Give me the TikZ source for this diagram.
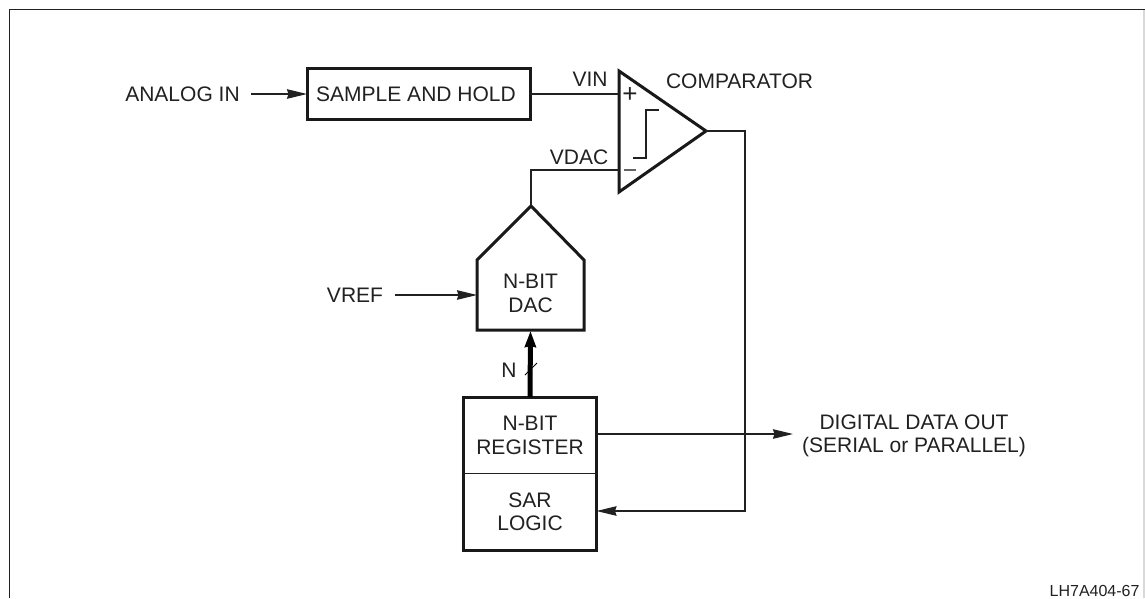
\documentclass[tikz,border=0pt]{standalone}
\usepackage{fontspec}
\setmainfont{Liberation Sans}
\usetikzlibrary{arrows.meta}
\definecolor{ink}{gray}{0.13}
\tikzset{
  x=1pt,y=-1pt,
  every node/.style={font=\fontsize{21}{23.5}\selectfont,text=ink,inner sep=0pt,outer sep=0pt,align=center},
  wire/.style={draw=ink,line width=1.3pt},
  box/.style={draw=black!90,line width=3pt,line join=miter},
  arr/.style={wire,-{Stealth[length=20pt,width=9.5pt,inset=1.5pt]}},
  bus/.style={draw=black,line width=5pt,-{Stealth[length=16pt,width=11pt,inset=1pt]}},
}
\begin{document}
\begin{tikzpicture}
\useasboundingbox (0,0) rectangle (1145,598);
\fill[white] (0,0) rectangle (1145,598);
% frame
\draw[draw=gray!30,line width=1.2pt] (1144,10) -- (1144,598);
\draw[draw=ink,line width=1.3pt] (9.5,598) -- (9.5,9.5) -- (1145,9.5);
% sample and hold
\node[box,minimum width=223,minimum height=51] (sh) at (418.5,94) {};
\node (sht) at (416,94.5) {SAMPLE AND HOLD};
\node (ai) at (182.5,94) {ANALOG IN};
\coordinate (aiE) at (251,94);
\draw[arr] (aiE) -- (sh.west);
% comparator
\coordinate (cA) at (619,71);
\coordinate (cB) at (619,192);
\coordinate (cC) at (706,131);
\draw[box] (cA) -- (cC) -- (cB) -- cycle;
\coordinate (cP) at (619,94);
\coordinate (cM) at (619,170);
\draw[wire] (sh.east) -- (cP);
\node (vin) at (590,79.5) {VIN};
\node (vdac) at (579,157) {VDAC};
\node[anchor=west] (compt) at (666,81.5) {COMPARATOR};
\node[font=\fontsize{26}{26}\selectfont] (plus) at (630,95) {+};
\draw[draw=ink!70,line width=1.2pt] (624,170) -- (636,170);
\draw[wire] (633,158) -- (646,158) -- (646,110) -- (659,110);
% DAC
\coordinate (dT) at (531,206);
\coordinate (dB) at (530.5,331);
\coordinate (dW) at (477,295);
\draw[box] (dT) -- (584,260) -- (584,330) -- (477,330) -- (477,260) -- cycle;
\node (dact) at (530.5,293.5) {N-BIT\\DAC};
\draw[wire] (dT) -- (531,170) -- (cM);
\node[anchor=east] (vref) at (383,295) {VREF};
\coordinate (vrefE) at (395,295);
\draw[arr] (vrefE) -- (dW);
% register
\node[minimum width=133,minimum height=76.5] (reg) at (530,435.25) {N-BIT\\REGISTER};
\node[minimum width=133,minimum height=76.5] (sar) at (530,511.75) {SAR\\LOGIC};
\draw[box] (reg.north west) rectangle (sar.south east);
\draw[wire] (reg.south west) -- (reg.south east);
\draw[bus] (reg.north) -- (dB);
\node (n) at (509,370) {N};
\draw[draw=black,line width=0.9pt] (525,375) -- (537,363);
% output
\coordinate (out) at (793,434);
\coordinate (rE) at (596.5,434);
\coordinate (sarE) at (596.5,511);
\draw[arr] (rE) -- (out);
\node (dout) at (914,436) {DIGITAL DATA OUT\\(SERIAL or PARALLEL)};
\draw[arr] (cC) -- (745,131) -- (745,511) -- (sarE);
\node[anchor=east,font=\fontsize{16}{18}\selectfont] (lh) at (1139.5,591) {LH7A404-67};
\end{tikzpicture}
\end{document}
